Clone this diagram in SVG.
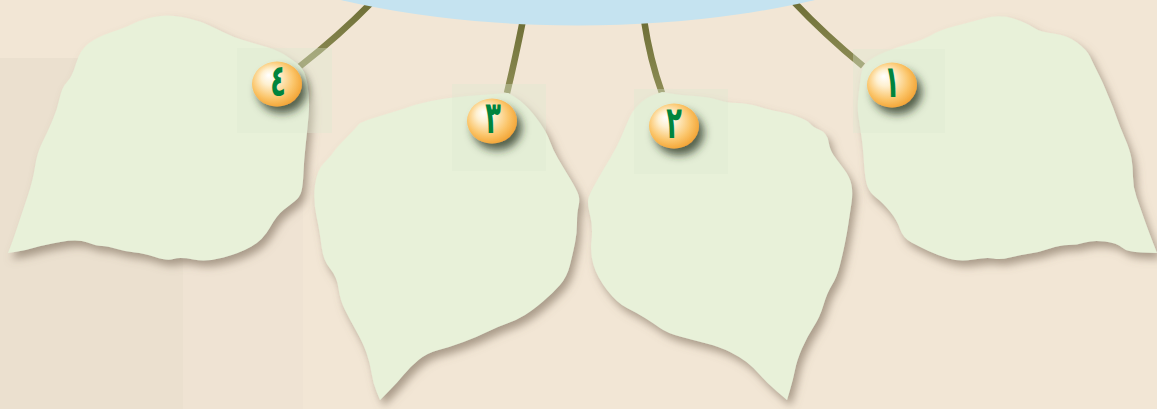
<svg xmlns="http://www.w3.org/2000/svg" width="1157" height="409" viewBox="0 0 1157 409">
<style>
.leaf{fill:#e8f1d9;filter:url(#leafShadow)}
.stem{fill:none;stroke:url(#stemGrad);stroke-width:6.5;stroke-linecap:butt}
.halo{fill:#dde8d2;opacity:0.35}
.ball{fill:url(#ballGrad);filter:url(#ballShadow)}
.num{font-family:"DejaVu Sans","Noto Sans",sans-serif;font-weight:bold;font-size:32px;fill:#00843d;text-anchor:middle}
</style>
<defs>
<filter id="leafShadow" x="-20%" y="-20%" width="140%" height="140%">
<feGaussianBlur in="SourceAlpha" stdDeviation="4"/>
<feOffset dx="4" dy="6" result="b"/>
<feFlood flood-color="#7a6a58" flood-opacity="0.6"/>
<feComposite in2="b" operator="in"/>
<feMerge><feMergeNode/><feMergeNode in="SourceGraphic"/></feMerge>
</filter>
<filter id="ballShadow" x="-60%" y="-60%" width="220%" height="220%">
<feGaussianBlur in="SourceAlpha" stdDeviation="4"/>
<feOffset dx="5" dy="7" result="b"/>
<feFlood flood-color="#26321f" flood-opacity="0.75"/>
<feComposite in2="b" operator="in"/>
<feMerge><feMergeNode/><feMergeNode in="SourceGraphic"/></feMerge>
</filter>
<radialGradient id="ballGrad" cx="0.45" cy="0.45" r="0.6" fx="0.33" fy="0.3">
<stop offset="0" stop-color="#ffffff"/>
<stop offset="0.3" stop-color="#fef0d0"/>
<stop offset="0.7" stop-color="#fbc56a"/>
<stop offset="1" stop-color="#f2a02e"/>
</radialGradient>
<linearGradient id="stemGrad" x1="0" y1="0" x2="0" y2="1">
<stop offset="0" stop-color="#6d6e35"/>
<stop offset="1" stop-color="#8d8c55"/>
</linearGradient>
</defs>

<rect width="1157" height="409" fill="#f2e6d5"/>
<rect x="0" y="58" width="183" height="351" fill="#ebe0cf"/>
<rect x="183" y="90" width="120" height="319" fill="#efe3d3"/>

<g id="connectors">
<path class="stem" d="M374,0 Q340,35 299,67"/>
<path class="stem" d="M523,20 Q515,60 507,93"/>
<path class="stem" d="M644,20 Q650,60 662,93"/>
<path class="stem" d="M792,0 Q825,35 863,66"/>
</g>

<ellipse cx="578" cy="-124.5" rx="425" ry="150" fill="#c5e3f0"/>

<g id="node-4">
<path class="leaf" d="M153.5,17 Q167,14 182,17 Q197,20 205,23.5 Q213,27 223,32 Q233,37 243,40 Q253,43 265,46.5 Q277,50 285,55 Q293,60 299,65 Q305,70 307.5,85 Q310,100 308.5,116.5 Q307,133 305.5,146.5 Q304,160 303.5,172.5 Q303,185 301.5,191 Q300,197 295,201 Q290,205 283.5,210 Q277,215 270,227.5 Q263,240 251.5,246.5 Q240,253 223.5,257.5 Q207,262 193.5,259.5 Q180,257 173.5,259 Q167,261 155,257 Q143,253 135,252.5 Q127,252 117,249 Q107,246 102,246 Q97,246 87.5,242.5 Q78,239 60.5,242 Q43,245 35,247.5 Q27,250 17.5,251.5 L8,253 L10.5,246.5 Q13,240 18,225 Q23,210 28,195 Q33,180 35,166.5 Q37,153 42,143 Q47,133 52,121.5 Q57,110 59.5,98.5 Q62,87 67,82 Q72,77 76,63.5 Q80,50 88.5,43.5 Q97,37 112,32 Q127,27 133.5,23.5 Q140,20 153.5,17 Z"/>
<rect class="halo" x="237" y="48" width="95" height="85"/>
<ellipse class="ball" cx="277" cy="84" rx="25" ry="22.5"/>
<text class="num" transform="translate(278,96) scale(0.8,1.4)">٤</text>
</g>

<g id="node-3">
<path class="leaf" d="M508,93 L514,96.5 Q520,100 526.5,106.5 Q533,113 540,123 Q547,133 550,141.5 Q553,150 558,158.5 Q563,167 570,178.5 Q577,190 578.5,195 Q580,200 578.5,206.5 Q577,213 577,223 Q577,233 575,243 Q573,253 570,265 Q567,277 560,285 Q553,293 543,301.5 Q533,310 525,315 Q517,320 507,323.5 Q497,327 487,332 Q477,337 463.5,342 Q450,347 438.5,350 Q427,353 418.5,360 Q410,367 403.5,375 Q397,383 388.5,391.5 L380,400 L376.5,391.5 Q373,383 371.5,373 Q370,363 366.5,353 Q363,343 356.5,331.5 Q350,320 345,310 Q340,300 338.5,288.5 Q337,277 330,268.5 Q323,260 321.5,246.5 Q320,233 316.5,216.5 Q313,200 315,185 Q317,170 323.5,163.5 Q330,157 333.5,152 Q337,147 347,137 Q357,127 358.5,124.5 Q360,122 380,116 Q400,110 410,106.5 Q420,103 436.5,100 Q453,97 480.5,95 Z"/>
<rect class="halo" x="452" y="84" width="94" height="87"/>
<ellipse class="ball" cx="492" cy="121" rx="25" ry="22.5"/>
<text class="num" transform="translate(493,133) scale(0.8,1.4)">٣</text>
</g>

<g id="node-2">
<path class="leaf" d="M662,92 L671,93.5 Q680,95 695,96 Q710,97 718.5,100 Q727,103 737,103 Q747,103 758.5,106.5 Q770,110 778.5,111.5 Q787,113 797,116.5 Q807,120 810,123.5 Q813,127 820,130 Q827,133 828.5,141.5 Q830,150 833.5,155 Q837,160 843.5,168.5 Q850,177 851.5,185 Q853,193 851.5,203 Q850,213 848.5,223 Q847,233 845,243 Q843,253 840,265 Q837,277 832,285 Q827,293 823.5,305 Q820,317 813.5,327 Q807,337 802,348.5 Q797,360 795,370 Q793,380 790,390 L787,400 L777,391.5 Q767,383 760,375 Q753,367 746.5,362 Q740,357 730,352 Q720,347 706.5,343.5 Q693,340 680,336.5 Q667,333 660,328 Q653,323 645,318 Q637,313 627,308 Q617,303 607,290 Q597,277 593.5,265 Q590,253 591.5,240 Q593,227 590,215 Q587,203 588.5,198 Q590,193 596.5,181.5 Q603,170 610,158.5 Q617,147 622,135 Q627,123 630,116.5 Q633,110 640,103.5 Q647,97 654.5,94.5 Z"/>
<rect class="halo" x="634" y="89" width="94" height="85"/>
<ellipse class="ball" cx="674" cy="126" rx="25" ry="22.5"/>
<text class="num" transform="translate(674,138) scale(0.8,1.4)">٢</text>
</g>

<g id="node-1">
<path class="leaf" d="M861,75 Q862,67 867.5,62 Q873,57 885,52 Q897,47 910,43.5 Q923,40 931.5,35 Q940,30 953.5,26.5 Q967,23 983.5,18.5 Q1000,14 1013.5,18.5 Q1027,23 1033.5,27.5 Q1040,32 1053.5,33.5 Q1067,35 1077,42.5 Q1087,50 1090,56.5 Q1093,63 1098,73 Q1103,83 1105,88 Q1107,93 1110,100 Q1113,107 1116.5,117 Q1120,127 1125,138.5 Q1130,150 1131.5,158.5 Q1133,167 1133,177 Q1133,187 1136.5,197 Q1140,207 1143.5,217 Q1147,227 1152,240 L1157,253 L1142,252.5 Q1127,252 1122,247.5 Q1117,243 1105,241.5 Q1093,240 1085,242.5 Q1077,245 1068.5,245 Q1060,245 1050,248.5 Q1040,252 1030,253.5 Q1020,255 1010,257.5 Q1000,260 993.5,258.5 Q987,257 973.5,259.5 Q960,262 948.5,258.5 Q937,255 928.5,251 Q920,247 911.5,242.5 Q903,238 900,229 Q897,220 890,211.5 Q883,203 876.5,198 Q870,193 867.5,186.5 Q865,180 864,163.5 Q863,147 861.5,137 Q860,127 858.5,117 Q857,107 858.5,95 Q860,83 861,75 Z"/>
<rect class="halo" x="853" y="49" width="92" height="84"/>
<ellipse class="ball" cx="892" cy="85" rx="25" ry="22.5"/>
<text class="num" transform="translate(892,97) scale(0.8,1.4)">١</text>
</g>
</svg>
